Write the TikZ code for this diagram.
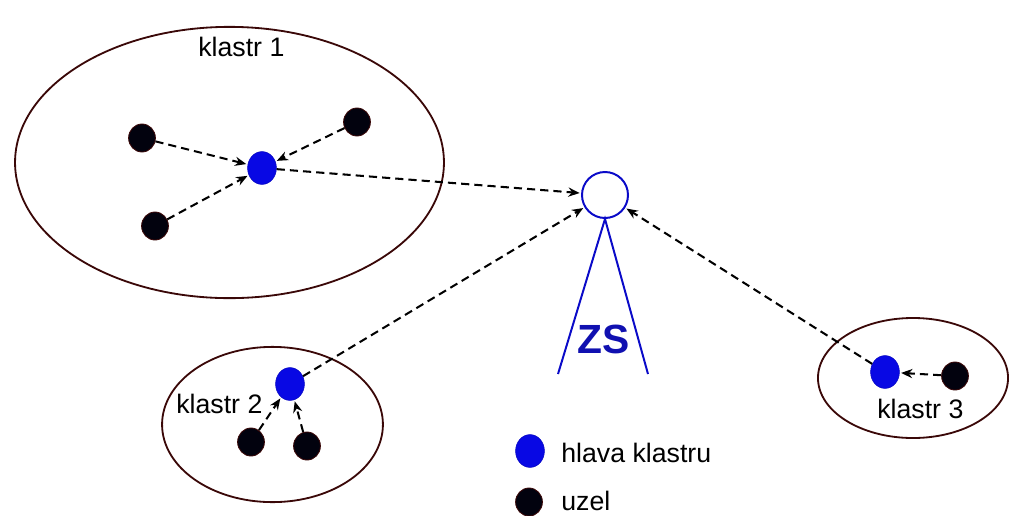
\documentclass[tikz,border=0pt]{standalone}
\usepackage{fontspec}
\setmainfont{Liberation Sans}
\usetikzlibrary{arrows.meta,positioning,shapes.geometric}
\definecolor{headblue}{HTML}{0808E4}
\definecolor{nodeblack}{HTML}{02020E}
\definecolor{rimred}{HTML}{3A0808}
\definecolor{basblue}{HTML}{0A0AC8}
\definecolor{zsblue}{HTML}{1010B0}
\tikzset{
  >={Stealth[length=8pt,width=6.5pt]},
  font=\fontsize{19}{22}\selectfont,
  cluster/.style={draw=rimred,line width=1.3pt,ellipse,inner sep=0pt},
  head/.style={ellipse,fill=headblue,draw=headblue!85!black,line width=0.4pt,
               inner sep=0pt,minimum width=0.72cm,minimum height=0.82cm},
  member/.style={ellipse,fill=nodeblack,draw=rimred,line width=0.6pt,
                 inner sep=0pt,minimum width=0.67cm,minimum height=0.7cm},
  hop/.style={->,dash pattern=on 5.8pt off 3.6pt,line width=1.45pt,shorten >=1pt},
  mast/.style={draw=basblue,line width=1.4pt},
  lbl/.style={inner sep=0pt,anchor=base west},
}

\begin{document}
\begin{tikzpicture}[x=0.025cm,y=-0.025cm]
  \useasboundingbox (0,0) rectangle (1013,515);

  % the three clusters
  \node[cluster,minimum width=10.72cm,minimum height=6.78cm] (klastr1) at (229.5,162.5) {};
  \node[cluster,minimum width=5.52cm,minimum height=3.88cm] (klastr2) at (272.5,424.5) {};
  \node[cluster,minimum width=4.75cm,minimum height=3.0cm] (klastr3) at (913,378) {};
  \node[lbl] (lbl1) at (198,56) {klastr 1};
  \node[lbl] (lbl2) at (176,413) {klastr 2};
  \node[lbl] (lbl3) at (877,418) {klastr 3};

  % cluster 1: head and its members
  \node[head] (h1) at (262,168) {};
  \node[member] (m11) at (142,138) {};
  \node[member] (m12) at (357,122) {};
  \node[member] (m13) at (155,226) {};

  % cluster 2
  \node[head] (h2) at (290,384) {};
  \node[member] (m21) at (251,442) {};
  \node[member] (m22) at (307,446) {};

  % cluster 3
  \node[head] (h3) at (885,372) {};
  \node[member] (m31) at (955,376) {};

  % base station
  \node[draw=basblue,circle,line width=1.4pt,minimum size=1.15cm,inner sep=0pt] (zs) at (605,195) {};
  \coordinate (mastl) at (558,374);
  \coordinate (mastr) at (648,374);
  \draw[mast] (mastl) -- (zs.south) -- (mastr);
  \node[lbl,font=\fontsize{29}{34}\selectfont\bfseries,text=zsblue] (zslbl) at (577,353) {ZS};

  % members report to their head
  \draw[hop] (m11) -- (h1);
  \draw[hop] (m12) -- (h1);
  \draw[hop] (m13) -- (h1);
  \draw[hop] (m21) -- (h2);
  \draw[hop] (m22) -- (h2);
  \draw[hop] (m31) -- (h3);

  % heads forward to the base station
  \draw[hop] (h1) -- (zs);
  \draw[hop] (h2) -- (zs);
  \draw[hop] (h3) -- (zs);

  % legend
  \node[head] (keyhead) at (530,451) {};
  \node[member] (keynode) at (529,502) {};
  \node[lbl] (keyheadlbl) at (561,462) {hlava klastru};
  \node[lbl] (keynodelbl) at (561,510) {uzel};
\end{tikzpicture}
\end{document}
